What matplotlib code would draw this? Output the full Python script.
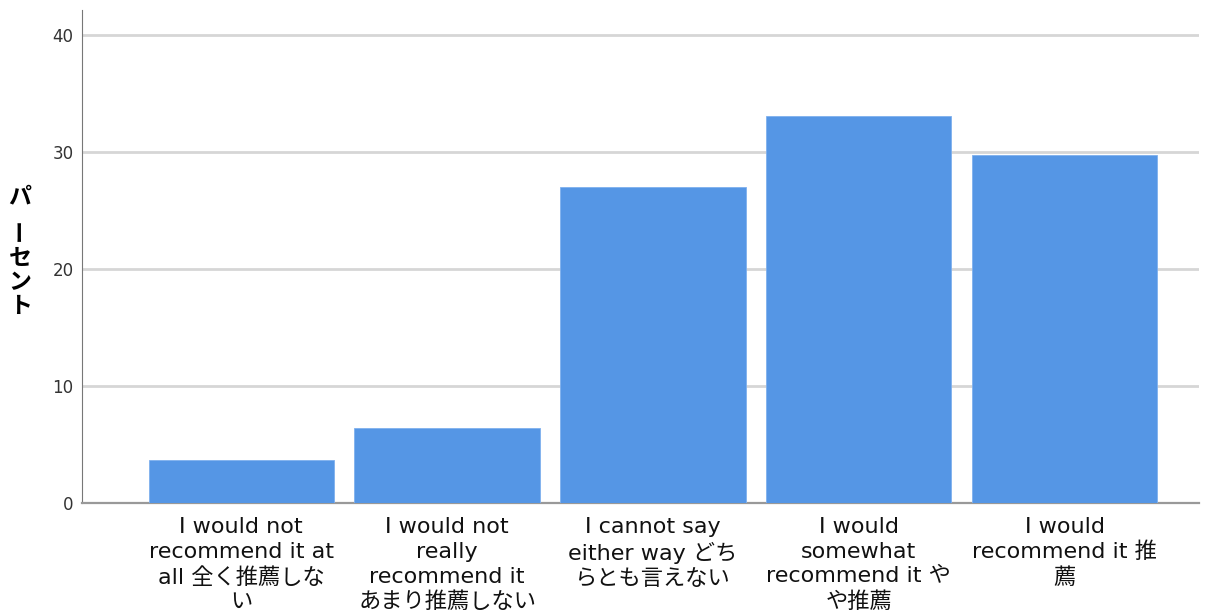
import matplotlib.pyplot as plt

plt.rcParams['font.family'] = ['DejaVu Sans', 'Noto Sans CJK JP']

categories = [
    'I would not\nrecommend it at\nall 全く推薦しな\nい',
    'I would not\nreally\nrecommend it\nあまり推薦しない',
    'I cannot say\neither way どち\nらとも言えない',
    'I would\nsomewhat\nrecommend it や\nや推薦',
    'I would\nrecommend it 推\n薦',
]
percent = [3.7, 6.4, 27.0, 33.1, 29.7]
yticks = [0, 10, 20, 30, 40]

fig = plt.figure(figsize=(12.14, 6.16), dpi=100)
ax = fig.add_axes([0.0675, 0.1834, 0.9205, 0.80])

ax.bar(range(len(percent)), percent, width=0.9, color='#5596e5',
       edgecolor='#7fb0ee', linewidth=0.6, zorder=3)

ax.set_xlim(-0.774, 4.655)
ax.set_ylim(0, 42.1)
ax.set_yticks(yticks)
ax.set_yticklabels([str(t) for t in yticks], fontsize=12, color='#333333')
ax.set_xticks(range(len(categories)))
ax.set_xticklabels(categories, fontsize=16, color='#111111', linespacing=1.3)
ax.tick_params(axis='both', length=0)
ax.tick_params(axis='x', pad=10)
ax.tick_params(axis='y', pad=6)

ax.grid(axis='y', color='#d6d6d6', linewidth=2, zorder=0)
for s in ['top', 'right']:
    ax.spines[s].set_visible(False)
ax.spines['left'].set_color('#777777')
ax.spines['bottom'].set_color('#999999')
ax.spines['bottom'].set_linewidth(1.6)

# vertical y-axis label, one character per line
chars = ['パ', 'ー', 'セ', 'ン', 'ト']
ys = [197, 230, 259, 283, 306]
for c, yp in zip(chars, ys):
    rot = 90 if c == 'ー' else 0
    fig.text(20 / 1214, 1 - yp / 616, c, fontsize=16.5, fontweight='bold',
             ha='center', va='center', rotation=rot,
             family='Noto Sans CJK JP')

fig.savefig('out.png', dpi=100, facecolor='white')
